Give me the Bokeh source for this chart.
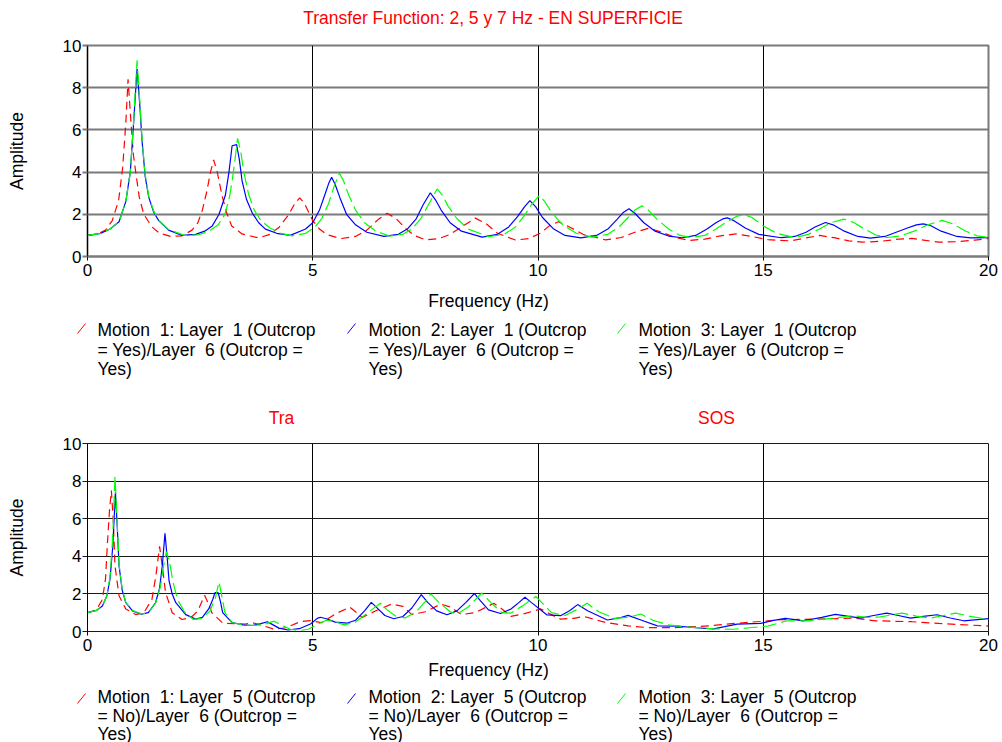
from bokeh.plotting import figure
from bokeh.layouts import column, row
from bokeh.models import FixedTicker, Range1d
from bokeh.embed import file_html
from bokeh.resources import INLINE
from bokeh.core.properties import value

FONT = "Liberation Sans"
W = 1002
NB = "\u00a0"  # keeps the doubled spaces of the legend labels

# ---------------------------------------------------------------------------
# Transfer functions at the surface: Layer 1 (outcrop) / Layer 6 (outcrop)
# (frequency in Hz, amplitude)
# ---------------------------------------------------------------------------
surf_m1 = [(0, 1.0), (0.2, 1.05), (0.4, 1.25), (0.55, 1.7), (0.69, 2.65), (0.78, 4.2),
           (0.85, 6.3), (0.9, 8.4), (0.96, 6.5), (1.02, 4.8), (1.07, 4.0), (1.15, 2.8),
           (1.25, 2.0), (1.43, 1.4), (1.6, 1.1), (1.85, 0.95), (2.1, 0.98), (2.32, 1.25),
           (2.45, 1.6), (2.55, 2.2), (2.65, 3.1), (2.73, 4.0), (2.8, 4.58), (2.88, 4.0),
           (2.99, 2.85), (3.1, 2.0), (3.2, 1.45), (3.43, 1.07), (3.8, 0.88), (4.05, 1.05),
           (4.26, 1.4), (4.46, 1.97), (4.6, 2.5), (4.71, 2.78), (4.82, 2.5), (4.92, 2.05),
           (5.0, 1.7), (5.15, 1.3), (5.3, 1.05), (5.62, 0.85), (5.95, 0.95), (6.2, 1.25),
           (6.45, 1.75), (6.65, 2.05), (6.85, 1.8), (7.05, 1.35), (7.25, 1.0), (7.5, 0.79),
           (7.8, 0.85), (8.05, 1.05), (8.3, 1.4), (8.61, 1.82), (8.85, 1.55), (9.1, 1.1),
           (9.5, 0.78), (9.8, 0.85), (10.05, 1.1), (10.25, 1.45), (10.45, 1.65), (10.7, 1.4),
           (11.0, 1.05), (11.5, 0.79), (11.85, 0.9), (12.15, 1.15), (12.46, 1.34),
           (12.75, 1.15), (13.05, 0.9), (13.35, 0.76), (13.7, 0.82), (14.05, 0.98),
           (14.4, 1.07), (14.75, 0.95), (15.1, 0.8), (15.6, 0.74), (15.95, 0.88),
           (16.25, 1.0), (16.6, 0.88), (16.9, 0.74), (17.2, 0.68), (17.6, 0.72), (18.0, 0.82),
           (18.3, 0.86), (18.6, 0.76), (18.9, 0.68), (19.3, 0.7), (19.7, 0.78), (20, 0.85)]

surf_m2 = [(0, 1.0), (0.3, 1.1), (0.5, 1.3), (0.7, 1.65), (0.85, 2.6), (0.95, 4.0),
           (1.02, 6.2), (1.1, 8.9), (1.16, 7.2), (1.21, 5.5), (1.28, 3.8), (1.36, 2.8),
           (1.47, 2.1), (1.58, 1.7), (1.8, 1.25), (2.1, 1.0), (2.4, 1.05), (2.6, 1.2),
           (2.77, 1.45), (2.92, 2.0), (3.06, 2.9), (3.14, 4.0), (3.21, 5.25), (3.31, 5.3),
           (3.37, 4.6), (3.43, 3.6), (3.53, 2.7), (3.66, 2.05), (3.8, 1.6), (3.95, 1.3),
           (4.2, 1.1), (4.5, 1.0), (4.84, 1.3), (5.0, 1.6), (5.15, 2.2), (5.28, 3.0),
           (5.36, 3.5), (5.42, 3.76), (5.5, 3.4), (5.6, 2.8), (5.75, 2.0), (5.95, 1.5),
           (6.2, 1.15), (6.58, 0.95), (6.9, 1.05), (7.1, 1.3), (7.3, 1.8), (7.45, 2.45),
           (7.61, 3.02), (7.72, 2.7), (7.85, 2.2), (8.05, 1.6), (8.3, 1.2), (8.76, 0.92),
           (9.1, 1.05), (9.35, 1.4), (9.55, 1.9), (9.7, 2.35), (9.82, 2.65), (9.95, 2.35),
           (10.1, 1.85), (10.35, 1.3), (10.6, 1.0), (10.95, 0.88), (11.3, 1.0), (11.55, 1.3),
           (11.75, 1.75), (11.9, 2.1), (12.02, 2.26), (12.15, 2.05), (12.35, 1.6),
           (12.6, 1.2), (12.9, 0.97), (13.2, 0.89), (13.5, 1.0), (13.75, 1.3), (13.95, 1.6),
           (14.1, 1.78), (14.2, 1.83), (14.35, 1.7), (14.6, 1.35), (14.9, 1.05), (15.4, 0.89),
           (15.7, 0.95), (15.95, 1.15), (16.15, 1.4), (16.38, 1.61), (16.55, 1.5), (16.8, 1.2),
           (17.1, 0.95), (17.38, 0.87), (17.7, 0.95), (17.95, 1.15), (18.2, 1.35), (18.4, 1.5),
           (18.55, 1.55), (18.7, 1.48), (18.95, 1.2), (19.3, 0.95), (19.6, 0.88), (20, 0.89)]

surf_m3 = [(0, 1.0), (0.3, 1.1), (0.5, 1.3), (0.7, 1.65), (0.85, 2.6), (0.95, 4.0),
           (1.02, 6.3), (1.1, 9.3), (1.16, 7.4), (1.21, 5.6), (1.28, 3.9), (1.36, 2.85),
           (1.47, 2.15), (1.58, 1.72), (1.8, 1.28), (2.15, 1.0), (2.45, 1.02), (2.7, 1.2),
           (2.9, 1.5), (3.05, 2.0), (3.15, 2.8), (3.22, 3.7), (3.28, 4.7), (3.33, 5.6),
           (3.4, 5.0), (3.47, 4.0), (3.57, 3.0), (3.7, 2.2), (3.85, 1.7), (4.05, 1.35),
           (4.3, 1.1), (4.55, 0.98), (4.85, 1.1), (5.05, 1.4), (5.2, 1.8), (5.35, 2.5),
           (5.47, 3.3), (5.59, 3.95), (5.68, 3.6), (5.8, 2.9), (5.95, 2.2), (6.15, 1.6),
           (6.4, 1.2), (6.7, 0.97), (7.0, 1.05), (7.2, 1.3), (7.4, 1.8), (7.58, 2.5),
           (7.76, 3.2), (7.88, 2.9), (8.0, 2.4), (8.2, 1.8), (8.45, 1.3), (8.9, 0.94),
           (9.25, 1.05), (9.5, 1.4), (9.7, 1.95), (9.87, 2.5), (10.03, 2.89), (10.15, 2.6),
           (10.3, 2.1), (10.55, 1.5), (10.85, 1.1), (11.2, 0.92), (11.55, 1.05), (11.8, 1.4),
           (12.0, 1.85), (12.15, 2.2), (12.31, 2.4), (12.45, 2.2), (12.65, 1.75), (12.9, 1.3),
           (13.15, 1.0), (13.4, 0.9), (13.7, 1.0), (13.95, 1.3), (14.2, 1.65), (14.4, 1.9),
           (14.57, 1.99), (14.75, 1.85), (15.0, 1.45), (15.3, 1.1), (15.7, 0.9), (16.0, 1.05),
           (16.25, 1.3), (16.5, 1.6), (16.79, 1.77), (17.0, 1.62), (17.25, 1.3), (17.5, 1.02),
           (17.75, 0.9), (18.05, 0.98), (18.35, 1.2), (18.65, 1.5), (18.97, 1.71),
           (19.2, 1.55), (19.5, 1.2), (19.75, 0.98), (20, 0.9)]

# ---------------------------------------------------------------------------
# Transfer functions Layer 5 (within) / Layer 6 (outcrop)
# ---------------------------------------------------------------------------
l5_m1 = [(0, 1.0), (0.2, 1.15), (0.33, 1.7), (0.4, 2.8), (0.44, 4.6), (0.49, 6.5),
         (0.53, 7.5), (0.57, 6.0), (0.61, 3.5), (0.7, 1.9), (0.85, 1.2), (1.07, 0.9),
         (1.25, 1.0), (1.43, 1.7), (1.52, 3.0), (1.6, 4.53), (1.67, 3.3), (1.73, 2.1),
         (1.88, 1.0), (2.1, 0.64), (2.3, 0.75), (2.45, 1.1), (2.6, 1.93), (2.68, 1.5),
         (2.76, 1.0), (3.0, 0.45), (3.3, 0.41), (3.5, 0.4), (3.69, 0.45), (3.9, 0.3),
         (4.15, 0.12), (4.4, 0.2), (4.73, 0.53), (4.95, 0.58), (5.2, 0.47), (5.5, 0.93),
         (5.82, 1.3), (6.1, 0.75), (6.4, 1.1), (6.75, 1.46), (7.0, 1.34), (7.2, 0.9),
         (7.5, 1.05), (7.84, 1.46), (8.05, 1.3), (8.3, 0.9), (8.6, 1.0), (9.02, 1.5),
         (9.2, 1.2), (9.4, 0.8), (9.7, 0.95), (10.06, 1.2), (10.25, 0.95), (10.5, 0.66),
         (10.8, 0.7), (11.02, 0.8), (11.5, 0.48), (12.0, 0.3), (12.42, 0.21), (13.0, 0.2),
         (13.8, 0.3), (14.6, 0.48), (15.0, 0.54), (15.4, 0.63), (16.2, 0.66), (17.0, 0.71),
         (17.5, 0.57), (18.3, 0.52), (18.9, 0.43), (20, 0.29)]

l5_m2 = [(0, 1.0), (0.2, 1.12), (0.33, 1.36), (0.43, 1.9), (0.5, 2.8), (0.56, 4.5),
         (0.62, 7.4), (0.66, 5.6), (0.7, 3.5), (0.77, 2.2), (0.85, 1.53), (1.0, 1.1),
         (1.2, 0.92), (1.35, 1.0), (1.51, 1.53), (1.6, 2.3), (1.66, 3.5), (1.72, 5.22),
         (1.77, 3.9), (1.81, 2.7), (1.88, 2.0), (1.96, 1.53), (2.18, 0.9), (2.4, 0.66),
         (2.55, 0.75), (2.69, 1.2), (2.78, 1.7), (2.83, 2.07), (2.9, 2.07), (2.95, 1.6),
         (3.0, 1.0), (3.1, 0.75), (3.21, 0.48), (3.45, 0.35), (3.66, 0.32), (3.85, 0.42),
         (3.99, 0.52), (4.1, 0.38), (4.25, 0.18), (4.45, 0.08), (4.7, 0.15), (4.95, 0.4),
         (5.1, 0.7), (5.17, 0.76), (5.3, 0.68), (5.5, 0.5), (5.77, 0.45), (5.95, 0.6),
         (6.15, 1.1), (6.3, 1.55), (6.45, 1.2), (6.6, 0.85), (6.8, 0.68), (7.0, 0.8),
         (7.2, 1.25), (7.41, 1.96), (7.55, 1.55), (7.75, 1.1), (7.98, 0.89), (8.2, 1.1),
         (8.4, 1.55), (8.59, 2.02), (8.72, 1.64), (8.9, 1.15), (9.17, 0.96), (9.4, 1.2),
         (9.58, 1.55), (9.71, 1.82), (9.85, 1.55), (10.2, 0.88), (10.5, 0.84), (10.7, 1.1),
         (10.88, 1.43), (11.1, 1.1), (11.54, 0.61), (11.8, 0.72), (12.0, 0.86), (12.3, 0.6),
         (12.65, 0.3), (13.1, 0.29), (13.5, 0.2), (13.9, 0.14), (14.42, 0.39), (14.94, 0.43),
         (15.2, 0.58), (15.49, 0.7), (15.9, 0.57), (16.3, 0.75), (16.6, 0.91), (16.9, 0.8),
         (17.16, 0.71), (17.45, 0.85), (17.74, 0.98), (18.0, 0.85), (18.27, 0.71),
         (18.55, 0.8), (18.86, 0.89), (19.15, 0.72), (19.45, 0.57), (20, 0.68)]

l5_m3 = [(0, 1.0), (0.2, 1.12), (0.33, 1.36), (0.43, 1.9), (0.5, 2.9), (0.56, 5.0),
         (0.61, 8.27), (0.66, 5.8), (0.7, 3.6), (0.77, 2.25), (0.85, 1.55), (1.0, 1.12),
         (1.2, 0.93), (1.35, 1.0), (1.51, 1.5), (1.62, 2.4), (1.69, 3.5), (1.75, 4.25),
         (1.82, 3.7), (1.9, 2.6), (2.0, 1.7), (2.15, 1.05), (2.35, 0.64), (2.55, 0.7),
         (2.72, 1.1), (2.84, 1.8), (2.92, 2.64), (2.98, 1.9), (3.05, 1.0), (3.2, 0.48),
         (3.45, 0.35), (3.7, 0.32), (3.95, 0.4), (4.14, 0.55), (4.3, 0.35), (4.5, 0.12),
         (4.7, 0.05), (4.9, 0.12), (5.1, 0.38), (5.3, 0.6), (5.45, 0.55), (5.7, 0.35),
         (5.95, 0.5), (6.25, 1.05), (6.5, 1.5), (6.65, 1.15), (6.85, 0.8), (7.05, 0.72),
         (7.3, 1.05), (7.5, 1.6), (7.62, 2.0), (7.8, 1.55), (8.05, 1.05), (8.2, 0.92),
         (8.45, 1.3), (8.75, 2.05), (8.95, 1.55), (9.2, 1.0), (9.4, 0.98), (9.65, 1.35),
         (9.95, 1.86), (10.1, 1.5), (10.3, 1.0), (10.6, 0.85), (10.85, 1.15), (11.09, 1.5),
         (11.35, 1.05), (11.7, 0.7), (12.0, 0.75), (12.28, 0.93), (12.55, 0.6), (12.87, 0.36),
         (13.3, 0.25), (13.9, 0.14), (14.34, 0.12), (14.7, 0.2), (15.1, 0.29), (15.53, 0.57),
         (15.97, 0.57), (16.5, 0.7), (17.0, 0.84), (17.3, 0.75), (17.6, 0.78), (18.08, 0.98),
         (18.4, 0.82), (18.7, 0.71), (19.0, 0.85), (19.27, 0.98), (19.6, 0.8), (20, 0.64)]

x_ticks = [0, 5, 10, 15, 20]
y_ticks = [0, 2, 4, 6, 8, 10]

surface_legend = [
    [f"Motion {NB}1: Layer {NB}1 (Outcrop", f"= Yes)/Layer {NB}6 (Outcrop =", "Yes)"],
    [f"Motion {NB}2: Layer {NB}1 (Outcrop", f"= Yes)/Layer {NB}6 (Outcrop =", "Yes)"],
    [f"Motion {NB}3: Layer {NB}1 (Outcrop", f"= Yes)/Layer {NB}6 (Outcrop =", "Yes)"],
]
layer5_legend = [
    [f"Motion {NB}1: Layer {NB}5 (Outcrop", f"= No)/Layer {NB}6 (Outcrop =", "Yes)"],
    [f"Motion {NB}2: Layer {NB}5 (Outcrop", f"= No)/Layer {NB}6 (Outcrop =", "Yes)"],
    [f"Motion {NB}3: Layer {NB}5 (Outcrop", f"= No)/Layer {NB}6 (Outcrop =", "Yes)"],
]

RED, BLUE, GREEN = "#ff0000", "#0000ff", "#00ff00"
STYLES = [(RED, "8 5"), (BLUE, "solid"), (GREEN, "14 5")]

LEFT, RIGHT = 87, 988
TEXT_SIZE = "17.5px"


def panel(height, border_top, border_bottom, series, grid_color, grid_width):
    """One transfer-function chart with its own axes and grid."""
    p = figure(width=W, height=height, x_range=Range1d(0, 20), y_range=Range1d(0, 10),
               output_backend="svg", toolbar_location=None, title=None,
               min_border_left=LEFT, min_border_right=W - RIGHT,
               min_border_top=border_top, min_border_bottom=border_bottom,
               background_fill_color="white", border_fill_color="white")

    p.outline_line_color = grid_color
    p.outline_line_width = grid_width

    p.xgrid.ticker = FixedTicker(ticks=[5, 10, 15])
    p.xgrid.grid_line_color = "black"
    p.xgrid.grid_line_width = 1
    p.ygrid.ticker = FixedTicker(ticks=[2, 4, 6, 8])
    p.ygrid.grid_line_color = grid_color
    p.ygrid.grid_line_width = grid_width

    p.xaxis.ticker = FixedTicker(ticks=x_ticks)
    p.yaxis.ticker = FixedTicker(ticks=y_ticks)
    p.axis.minor_tick_line_color = None
    p.axis.major_tick_in = 0
    p.xaxis.major_tick_out = 4
    p.yaxis.major_tick_out = 5
    p.xaxis.major_label_standoff = 3
    p.yaxis.major_label_standoff = 1
    p.axis.major_label_text_font = FONT
    p.axis.major_label_text_font_size = "17px"
    p.axis.major_label_text_color = "black"
    p.xaxis.axis_line_color = grid_color
    p.xaxis.axis_line_width = grid_width
    p.xaxis.major_tick_line_color = "black"
    p.yaxis.axis_line_color = "black"
    p.yaxis.major_tick_line_color = grid_color
    p.yaxis.major_tick_line_width = grid_width

    p.yaxis.axis_label = "Amplitude"
    p.yaxis.axis_label_text_font = FONT
    p.yaxis.axis_label_text_font_size = TEXT_SIZE
    p.yaxis.axis_label_text_font_style = "normal"
    p.yaxis.axis_label_text_color = "black"
    p.yaxis.axis_label_standoff = 33

    for pairs, (color, dash) in zip(series, STYLES):
        f = [q[0] for q in pairs]
        a = [q[1] for q in pairs]
        p.line(f, a, line_color=color, line_width=1.2, line_dash=dash)
    return p


def strip(top, height, texts, swatches=()):
    """Text band between the charts; coordinates are canvas pixels (y grows downward)."""
    p = figure(width=W, height=height, x_range=Range1d(0, W), y_range=Range1d(top + height, top),
               output_backend="svg", toolbar_location=None, title=None, min_border=0,
               x_axis_location=None, y_axis_location=None,
               background_fill_color="white", border_fill_color="white")
    p.grid.visible = False
    p.outline_line_color = None
    for text, x, y, align, color in texts:
        p.text(x=[x], y=[y], text=[text], text_font=value(FONT),
               text_font_size=value(TEXT_SIZE), text_color=color,
               text_align=align, text_baseline="middle")
    if swatches:
        p.segment(x0=[s[0] for s in swatches], y0=[s[1] for s in swatches],
                  x1=[s[2] for s in swatches], y1=[s[3] for s in swatches],
                  line_color=[s[4] for s in swatches], line_width=1)
    return row(p)


def legend_items(entries, line_y, swatch_top):
    text_x = [97, 368, 638]
    swatch_x = [77, 347, 617]
    texts, swatches = [], []
    for col, (lines, color) in enumerate(zip(entries, [RED, BLUE, GREEN])):
        for r, line in enumerate(lines):
            texts.append((line, text_x[col], line_y[r], "left", "black"))
        swatches.append((swatch_x[col], swatch_top + 10, swatch_x[col] + 8, swatch_top, color))
    return texts, swatches


title_band = strip(0, 30, [("Transfer Function: 2, 5 y 7 Hz - EN SUPERFICIE", 492.5, 17, "center", RED)])

top_plot = panel(254, 15, 28, [surf_m1, surf_m2, surf_m3], "#7a7a7a", 2)      # canvas 30..284

t1, s1 = legend_items(surface_legend, [329, 349, 368], 323)
t1 = [("Frequency (Hz)", 488, 300, "center", "black")] + t1 + [
    ("Tra", 281, 417, "center", RED), ("SOS", 716, 417, "center", RED)]
middle_band = strip(284, 145, t1, s1)                                          # canvas 284..429

bottom_plot = panel(231, 14, 29, [l5_m1, l5_m2, l5_m3], "#1a1a1a", 1)         # canvas 429..660

t2, s2 = legend_items(layer5_legend, [696, 715, 733], 693)
t2 = [("Frequency (Hz)", 488, 669, "center", "black")] + t2
bottom_band = strip(660, 82, t2, s2)                                           # canvas 660..742

layout = column(title_band, top_plot, middle_band, bottom_plot, bottom_band, spacing=0)
open("out.html", "w").write(file_html(layout, INLINE))
